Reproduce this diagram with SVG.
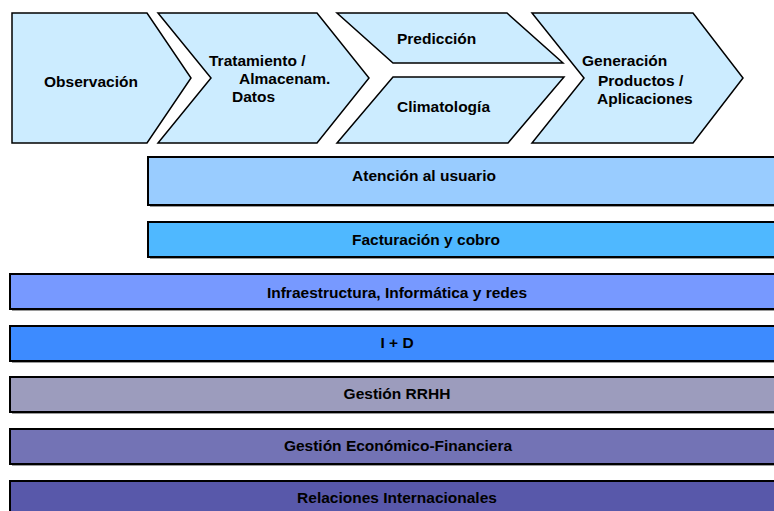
<svg xmlns="http://www.w3.org/2000/svg" width="774" height="511" viewBox="0 0 774 511">
<style>
  .chev { fill: #CCECFF; stroke: #000; stroke-width: 1.5; stroke-linejoin: miter; }
  .bar { stroke: #000; stroke-width: 2; }
  .shadow { fill: #9a9a9a; }
  text { font-family: "Liberation Sans", Arial, sans-serif; font-weight: bold; font-size: 15.5px; fill: #000; }
  .c { text-anchor: middle; }
</style>
<rect width="774" height="511" fill="#fff"/>
<g id="observacion">
  <polygon class="chev" points="12,13 147,13 191,78 147,143 12,143"/>
  <text x="44" y="87">Observación</text>
</g>
<g id="tratamiento">
  <polygon class="chev" points="158,13 317,13 369,78 317,143 158,143 211,78"/>
  <text x="209" y="66">Tratamiento /</text>
  <text x="239" y="84">Almacenam.</text>
  <text x="232" y="102">Datos</text>
</g>
<g id="prediccion">
  <polygon class="chev" points="337,13 507,13 563,63 393,63"/>
  <text x="397" y="44">Predicción</text>
</g>
<g id="climatologia">
  <polygon class="chev" points="393,77 564,77 508,143 337,143"/>
  <text x="397" y="112">Climatología</text>
</g>
<g id="generacion">
  <polygon class="chev" points="532,13 693,13 743,78 693,143 532,143 584,78"/>
  <text x="582" y="66">Generación</text>
  <text x="598" y="86">Productos /</text>
  <text x="597" y="104">Aplicaciones</text>
</g>
<g id="atencion">
  <rect class="shadow" x="150" y="159" width="640" height="48"/>
  <rect class="bar" x="148" y="157" width="640" height="48" fill="#99CCFF"/>
  <text class="c" x="424" y="181">Atención al usuario</text>
</g>
<g id="facturacion">
  <rect class="shadow" x="150" y="224" width="640" height="35"/>
  <rect class="bar" x="148" y="222" width="640" height="35" fill="#4FB8FF"/>
  <text class="c" x="426" y="245">Facturación y cobro</text>
</g>
<g id="infraestructura">
  <rect class="shadow" x="12" y="276" width="780" height="35"/>
  <rect class="bar" x="10" y="274" width="780" height="35" fill="#7799FF"/>
  <text class="c" x="397" y="298">Infraestructura, Informática y redes</text>
</g>
<g id="imasd">
  <rect class="shadow" x="12" y="328" width="780" height="35"/>
  <rect class="bar" x="10" y="326" width="780" height="35" fill="#3D8BFF"/>
  <text class="c" x="397" y="348">I + D</text>
</g>
<g id="rrhh">
  <rect class="shadow" x="12" y="379" width="780" height="35"/>
  <rect class="bar" x="10" y="377" width="780" height="35" fill="#9C9CBD"/>
  <text class="c" x="397" y="399">Gestión RRHH</text>
</g>
<g id="economico">
  <rect class="shadow" x="12" y="431" width="780" height="35"/>
  <rect class="bar" x="10" y="429" width="780" height="35" fill="#7373B5"/>
  <text class="c" x="398" y="451">Gestión Económico-Financiera</text>
</g>
<g id="relaciones">
  <rect class="shadow" x="12" y="483" width="780" height="35"/>
  <rect class="bar" x="10" y="481" width="780" height="35" fill="#5858AA"/>
  <text class="c" x="397" y="503">Relaciones Internacionales</text>
</g>
<g id="connectors"></g>
</svg>
